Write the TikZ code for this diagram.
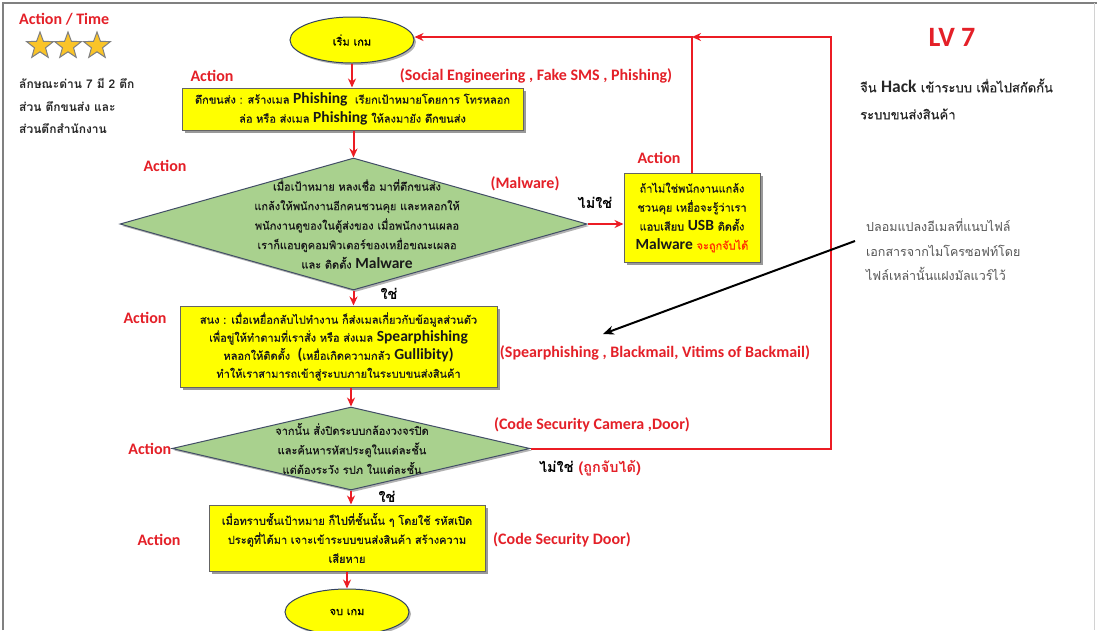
\documentclass[tikz,border=0pt]{standalone}
\usepackage{fontspec}
\setmainfont{Carlito}
\newfontfamily\thaifont[Script=Thai, FakeBold=0.6]{Loma}
\newfontfamily\thaithin[Script=Thai]{Loma}
\newfontfamily\latfont{Carlito}
\usetikzlibrary{shapes.geometric,arrows.meta,shadows}

\definecolor{flowred}{RGB}{236,28,36}
\definecolor{labelred}{RGB}{228,32,40}
\definecolor{boxyellow}{RGB}{255,255,0}
\definecolor{decgreen}{RGB}{169,209,142}
\definecolor{edgegray}{RGB}{100,100,100}
\definecolor{ovalborder}{RGB}{50,66,96}
\definecolor{stargold}{RGB}{250,196,40}
\definecolor{warnorange}{RGB}{255,50,0}
\definecolor{notegray}{RGB}{85,85,85}

% bold Latin words inside Thai text
\newcommand\en[1]{{\latfont\bfseries\fontsize{15.5}{15.5}\selectfont #1}}

\tikzset{
  x=1pt, y=-1pt,
  procbox/.style={draw=edgegray, line width=1pt, fill=boxyellow,
    drop shadow={shadow xshift=2.5pt, shadow yshift=-2.5pt, opacity=0.4, fill=black},
    inner sep=0pt, align=center, text=black!90, font=\thaifont\fontsize{11}{19}\selectfont},
  decbox/.style={draw=ovalborder!80!gray, line width=1pt, fill=decgreen, shape=diamond,
    inner sep=0pt, drop shadow={shadow xshift=2pt, shadow yshift=-2pt, opacity=0.3, fill=black}},
  dectext/.style={align=center, text=black!90, font=\thaifont\fontsize{11}{19.5}\selectfont},
  terminal/.style={draw=ovalborder, line width=1pt, fill=boxyellow, ellipse,
    minimum width=124pt, minimum height=46pt, inner sep=0pt,
    drop shadow={shadow xshift=2pt, shadow yshift=-2pt, opacity=0.3, fill=black},
    font=\thaifont\fontsize{11}{12}\selectfont},
  actlabel/.style={text=labelred, font=\latfont\bfseries\fontsize{16}{16}\selectfont, inner sep=0pt},
  branch/.style={font=\thaithin\bfseries\fontsize{14.5}{15}\selectfont, inner sep=0pt},
  flow/.style={draw=flowred, line width=2pt, -{Stealth[length=9pt,width=8pt]}},
  pointer/.style={draw=black, line width=2pt, -{Stealth[length=11pt,width=9pt]}},
  star5/.style={star, star points=5, star point ratio=2.4, fill=stargold, draw=gray,
    line width=1pt, minimum size=28pt, inner sep=0pt},
}

\begin{document}
\begin{tikzpicture}
\useasboundingbox (0,0) rectangle (1097,630);
\fill[white] (0,0) rectangle (1097,630);

% page frame
\draw[gray, line width=2.5pt] (3,630) -- (3,3) -- (1097,3);
\draw[gray!35, line width=1pt] (1094,3) -- (1094,630);

% top-left: level info
\node[actlabel, anchor=west] (acttime) at (19,19) {Action / Time};
\node[star5] (s1) at (40,46) {};
\node[star5] (s2) at (68,46) {};
\node[star5] (s3) at (97,46) {};
\node[anchor=west, align=left, text=black!85, inner sep=0pt,
      font=\thaithin\bfseries\fontsize{12}{22.5}\selectfont] (levelinfo) at (19,106)
  {ลักษณะด่าน 7 มี 2 ตึก\\ส่วน ตึกขนส่ง และ\\ส่วนตึกสำนักงาน};

% top-right: level title
\node[text=labelred, font=\latfont\bfseries\fontsize{28}{28}\selectfont, inner sep=0pt] (lv) at (952,37) {LV 7};
\node[anchor=west, align=left, text=black!85, inner sep=0pt,
      font=\thaifont\fontsize{13}{27}\selectfont] (goal) at (860,99)
  {จีน {\latfont\bfseries\fontsize{17.5}{17.5}\selectfont Hack} เข้าระบบ เพื่อไปสกัดกั้น\\ระบบขนส่งสินค้า};

% note on the right
\node[anchor=west, align=left, text=notegray, inner sep=0pt,
      font=\thaithin\fontsize{12.5}{24.5}\selectfont] (note) at (866,250)
  {ปลอมแปลงอีเมลที่แนบไฟล์\\เอกสารจากไมโครซอฟท์โดย\\ไฟล์เหล่านั้นแฝงมัลแวร์ไว้};

% flow
\node[terminal] (start) at (352,40) {เริ่ม เกม};

\node[procbox, minimum width=341pt, minimum height=42pt] (b1) at (352.5,109)
  {ตึกขนส่ง : สร้างเมล \en{Phishing}\ \ เรียกเป้าหมายโดยการ โทรหลอก\\
   ล่อ หรือ ส่งเมล \en{Phishing} ให้ลงมายัง ตึกขนส่ง};

\node[decbox, minimum width=467pt, minimum height=132pt] (d1) at (353.5,224) {};
\node[dectext] (d1t) at (357,224)
  {เมื่อเป้าหมาย หลงเชื่อ มาที่ตึกขนส่ง\\
   แกล้งให้พนักงานอีกคนชวนคุย และหลอกให้\\
   พนักงานดูของในตู้ส่งของ เมื่อพนักงานเผลอ\\
   เราก็แอบดูคอมพิวเตอร์ของเหยื่อขณะเผลอ\\
   และ ติดตั้ง \en{Malware}};

\node[procbox, minimum width=136pt, minimum height=89pt] (b2) at (692,217.5)
  {ถ้าไม่ใช่พนักงานแกล้ง\\
   ชวนคุย เหยื่อจะรู้ว่าเรา\\
   แอบเสียบ \en{USB} ติดตั้ง\\
   \en{Malware} {\color{warnorange}จะถูกจับได้}};

\node[procbox, minimum width=317pt, minimum height=81pt,
      font=\thaifont\fontsize{11}{18}\selectfont] (b3) at (338.5,346.5)
  {สนง : เมื่อเหยื่อกลับไปทำงาน ก็ส่งเมลเกี่ยวกับข้อมูลส่วนตัว\\
   เพื่อขู่ให้ทำตามที่เราสั่ง หรือ ส่งเมล \en{Spearphishing}\\
   หลอกให้ติดตั้ง\ \ \en{(}เหยื่อเกิดความกลัว \en{Gullibity)}\\
   ทำให้เราสามารถเข้าสู่ระบบภายในระบบขนส่งสินค้า};

\node[decbox, minimum width=358pt, minimum height=83pt] (d2) at (351,448.5) {};
\node[dectext] (d2t) at (352,448.5)
  {จากนั้น สั่งปิดระบบกล้องวงจรปิด\\
   และค้นหารหัสประตูในแต่ละชั้น\\
   แต่ต้องระวัง รปภ ในแต่ละชั้น};

\node[procbox, minimum width=276pt, minimum height=66pt] (b4) at (347,538)
  {เมื่อทราบชั้นเป้าหมาย ก็ไปที่ชั้นนั้น ๆ โดยใช้ รหัสเปิด\\
   ประตูที่ได้มา เจาะเข้าระบบขนส่งสินค้า สร้างความ\\
   เสียหาย};

\node[terminal] (finish) at (347,612) {จบ เกม};

% labels
\node[actlabel] (a1) at (212,76) {Action};
\node[actlabel] (a2) at (165,166) {Action};
\node[actlabel] (a3) at (659,158) {Action};
\node[actlabel] (a4) at (145,318) {Action};
\node[actlabel, anchor=east] (a5) at (d2.west) {Action};
\node[actlabel] (a6) at (159,540) {Action};

\node[actlabel] (t1) at (536,76) {(Social Engineering , Fake SMS , Phishing)};
\node[actlabel] (t2) at (525,184) {(Malware)};
\node[actlabel] (t3) at (655,353) {(Spearphishing , Blackmail, Vitims of Backmail)};
\node[actlabel] (t4) at (592,425) {(Code Security Camera ,Door)};
\node[actlabel] (t5) at (562,540) {(Code Security Door)};

\node[branch] (no1) at (595,203) {ไม่ใช่};
\node[branch] (yes1) at (389,294) {ใช่};
\node[branch] (yes2) at (387,497) {ใช่};
\node[branch] (no2) at (590,468) {ไม่ใช่ {\color{labelred}(ถูกจับได้)}};

% connectors
\draw[flow] (start.south) -- (b1.north -| start.south);
\draw[flow] (b1.south -| d1.north) -- (d1.north);
\draw[flow] (d1.east) -- (d1.east -| b2.west);
\draw[flow] (d1.south) -- (d1.south |- b3.north);
\draw[flow] (b3.south -| d2.north) -- (d2.north);
\draw[flow] (d2.south) -- (d2.south |- b4.north);
\draw[flow] (b4.south) -- (finish.north);

\coordinate (topjoin) at (692,37);
\draw[flow] (b2.north) -- (topjoin) -- (start.east |- topjoin);
\coordinate (loopside) at (831,448.5);
\coordinate (looptop) at (831,37);
\draw[flow] (d2.east) -- (loopside) -- (looptop) -- (topjoin);

% pointer from the note to the spear-phishing label
\coordinate (notetail) at (855,241);
\coordinate (notehead) at (603,334);
\draw[pointer] (notetail) -- (notehead);
\end{tikzpicture}
\end{document}
